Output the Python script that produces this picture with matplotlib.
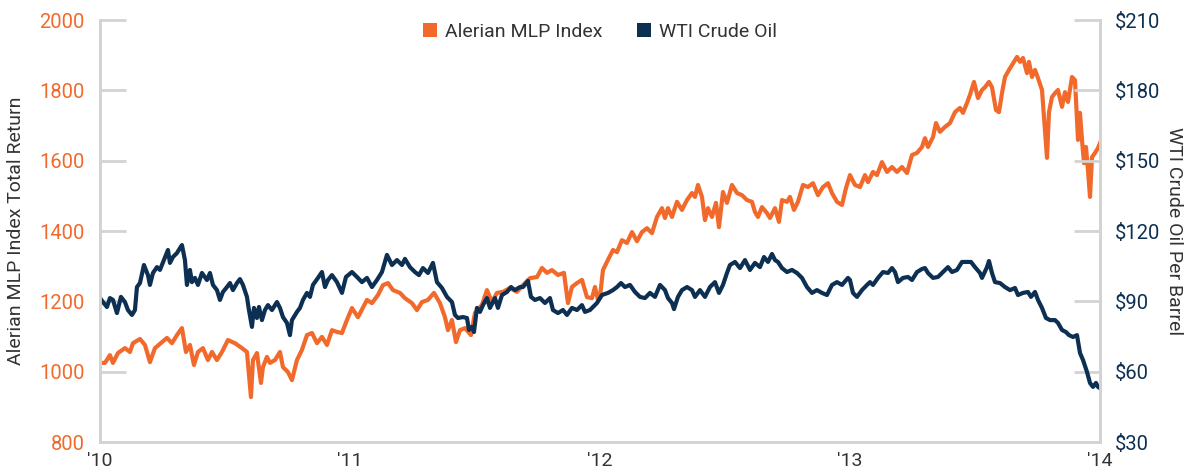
import matplotlib.pyplot as plt
from matplotlib.patches import Patch

# years since start of 2010
mlp_t = [0.000, 0.020, 0.040, 0.052, 0.072, 0.100, 0.120, 0.132, 0.160, 0.180,
         0.200, 0.220, 0.248, 0.268, 0.288, 0.308, 0.328, 0.344, 0.360, 0.376,
         0.392, 0.412, 0.432, 0.448, 0.468, 0.488, 0.512, 0.540, 0.568, 0.588,
         0.604, 0.612, 0.628, 0.644, 0.652, 0.668, 0.680, 0.700, 0.720, 0.732,
         0.752, 0.768, 0.788, 0.808, 0.828, 0.848, 0.868, 0.888, 0.908, 0.928,
         0.948, 0.968, 0.988, 1.008, 1.032, 1.068, 1.088, 1.112, 1.132, 1.152,
         1.172, 1.200, 1.220, 1.248, 1.268, 1.288, 1.312, 1.336, 1.360, 1.380,
         1.392, 1.408, 1.424, 1.440, 1.460, 1.484, 1.500, 1.528, 1.548, 1.568,
         1.588, 1.612, 1.640, 1.668, 1.692, 1.720, 1.748, 1.768, 1.788, 1.808,
         1.832, 1.856, 1.872, 1.888, 1.908, 1.928, 1.948, 1.968, 1.980, 1.992,
         2.000, 2.012, 2.032, 2.052, 2.068, 2.088, 2.108, 2.128, 2.148, 2.168,
         2.188, 2.208, 2.228, 2.248, 2.260, 2.272, 2.288, 2.308, 2.328, 2.348,
         2.368, 2.380, 2.392, 2.408, 2.420, 2.432, 2.448, 2.464, 2.476, 2.492,
         2.508, 2.528, 2.548, 2.568, 2.588, 2.608, 2.620, 2.632, 2.648, 2.668,
         2.680, 2.700, 2.716, 2.728, 2.748, 2.760, 2.776, 2.792, 2.812, 2.832,
         2.852, 2.872, 2.892, 2.912, 2.928, 2.948, 2.968, 2.984, 3.000, 3.020,
         3.040, 3.060, 3.072, 3.092, 3.108, 3.128, 3.148, 3.168, 3.188, 3.208,
         3.228, 3.248, 3.268, 3.288, 3.300, 3.312, 3.332, 3.344, 3.360, 3.380,
         3.400, 3.420, 3.440, 3.452, 3.468, 3.480, 3.496, 3.512, 3.528, 3.540,
         3.556, 3.568, 3.584, 3.596, 3.608, 3.620, 3.636, 3.648, 3.668, 3.680,
         3.692, 3.708, 3.716, 3.728, 3.740, 3.752, 3.768, 3.776, 3.788, 3.796,
         3.808, 3.820, 3.832, 3.848, 3.860, 3.872, 3.888, 3.900, 3.912, 3.920,
         3.928, 3.936, 3.944, 3.952, 3.960, 3.968, 3.980, 3.992, 4.000]
mlp = [1025, 1025, 1047, 1025, 1053, 1067, 1056, 1081, 1093, 1076,
       1027, 1067, 1084, 1096, 1081, 1104, 1124, 1056, 1076, 1019,
       1056, 1067, 1033, 1056, 1033, 1056, 1090, 1081, 1067, 1056,
       928, 1033, 1053, 968, 1013, 1042, 1025, 1033, 1056, 1013,
       999, 976, 1033, 1062, 1104, 1110, 1081, 1099, 1076, 1118,
       1113, 1110, 1147, 1181, 1155, 1204, 1195, 1218, 1246, 1252,
       1232, 1224, 1209, 1195, 1175, 1198, 1204, 1224, 1195, 1155,
       1118, 1147, 1084, 1118, 1124, 1104, 1167, 1190, 1232, 1198,
       1224, 1227, 1238, 1227, 1246, 1266, 1269, 1295, 1281, 1289,
       1275, 1281, 1195, 1241, 1252, 1261, 1212, 1209, 1241, 1204,
       1212, 1289, 1318, 1346, 1340, 1374, 1366, 1397, 1371, 1397,
       1408, 1394, 1440, 1465, 1437, 1465, 1440, 1483, 1460, 1488,
       1508, 1497, 1531, 1497, 1431, 1465, 1440, 1480, 1411, 1511,
       1480, 1531, 1508, 1502, 1488, 1483, 1454, 1440, 1468, 1451,
       1437, 1465, 1426, 1488, 1483, 1497, 1460, 1483, 1531, 1525,
       1536, 1502, 1525, 1536, 1508, 1483, 1474, 1522, 1559, 1531,
       1525, 1559, 1539, 1568, 1559, 1596, 1568, 1582, 1568, 1582,
       1565, 1616, 1622, 1639, 1664, 1639, 1667, 1707, 1682, 1696,
       1707, 1738, 1750, 1736, 1764, 1787, 1824, 1778, 1801, 1809,
       1824, 1809, 1744, 1738, 1792, 1838, 1858, 1872, 1895, 1881,
       1892, 1849, 1881, 1838, 1858, 1835, 1801, 1724, 1608, 1738,
       1781, 1792, 1801, 1753, 1795, 1767, 1838, 1829, 1659, 1736,
       1659, 1593, 1639, 1573, 1497, 1610, 1622, 1636, 1650]

wti_t = [0.000, 0.012, 0.028, 0.040, 0.052, 0.068, 0.084, 0.100, 0.112, 0.128,
         0.140, 0.148, 0.160, 0.176, 0.192, 0.200, 0.212, 0.228, 0.240, 0.256,
         0.272, 0.280, 0.292, 0.308, 0.320, 0.328, 0.340, 0.348, 0.360, 0.368,
         0.380, 0.392, 0.408, 0.428, 0.440, 0.452, 0.468, 0.480, 0.492, 0.508,
         0.520, 0.532, 0.548, 0.560, 0.572, 0.588, 0.596, 0.608, 0.616, 0.628,
         0.636, 0.648, 0.660, 0.672, 0.688, 0.708, 0.720, 0.732, 0.748, 0.760,
         0.768, 0.788, 0.800, 0.812, 0.828, 0.840, 0.852, 0.872, 0.888, 0.900,
         0.912, 0.928, 0.948, 0.968, 0.984, 1.008, 1.028, 1.048, 1.068, 1.088,
         1.108, 1.128, 1.148, 1.168, 1.188, 1.208, 1.220, 1.240, 1.260, 1.276,
         1.292, 1.312, 1.332, 1.348, 1.368, 1.388, 1.408, 1.420, 1.432, 1.452,
         1.468, 1.476, 1.488, 1.496, 1.508, 1.520, 1.532, 1.548, 1.560, 1.580,
         1.592, 1.608, 1.628, 1.644, 1.660, 1.680, 1.692, 1.712, 1.724, 1.740,
         1.760, 1.780, 1.800, 1.812, 1.832, 1.852, 1.868, 1.888, 1.908, 1.928,
         1.940, 1.960, 1.980, 1.988, 2.008, 2.032, 2.052, 2.068, 2.084, 2.100,
         2.120, 2.140, 2.160, 2.180, 2.200, 2.220, 2.240, 2.260, 2.272, 2.288,
         2.296, 2.312, 2.328, 2.348, 2.368, 2.380, 2.400, 2.420, 2.440, 2.460,
         2.476, 2.492, 2.508, 2.520, 2.540, 2.560, 2.580, 2.600, 2.620, 2.640,
         2.656, 2.672, 2.688, 2.700, 2.712, 2.728, 2.748, 2.768, 2.788, 2.808,
         2.828, 2.848, 2.868, 2.888, 2.908, 2.928, 2.948, 2.968, 2.992, 3.000,
         3.012, 3.028, 3.048, 3.068, 3.080, 3.092, 3.112, 3.132, 3.152, 3.168,
         3.180, 3.192, 3.212, 3.232, 3.248, 3.268, 3.288, 3.300, 3.312, 3.332,
         3.352, 3.372, 3.392, 3.408, 3.428, 3.448, 3.468, 3.484, 3.500, 3.520,
         3.528, 3.548, 3.556, 3.568, 3.580, 3.600, 3.620, 3.640, 3.660, 3.672,
         3.692, 3.712, 3.724, 3.740, 3.752, 3.768, 3.784, 3.800, 3.820, 3.832,
         3.848, 3.864, 3.876, 3.892, 3.908, 3.920, 3.932, 3.948, 3.960, 3.972,
         3.984, 3.992, 4.000]
wti = [91.4, 89.7, 87.6, 91.4, 90.6, 85.0, 91.9, 89.7, 86.3, 84.2,
       86.3, 96.1, 97.8, 105.5, 101.2, 97.0, 102.1, 104.6, 103.4, 107.6,
       111.9, 106.4, 108.9, 110.6, 112.7, 114.0, 107.6, 97.0, 103.4, 98.2,
       100.0, 97.0, 102.1, 99.1, 102.1, 97.0, 94.8, 90.6, 94.0, 96.1,
       97.8, 94.8, 97.8, 99.5, 97.0, 91.9, 86.3, 79.1, 87.2, 82.9,
       87.6, 82.0, 86.3, 88.4, 86.3, 89.7, 87.2, 83.3, 80.8, 75.6,
       82.0, 85.5, 87.2, 90.6, 93.6, 91.9, 97.0, 100.0, 102.5, 96.1,
       99.1, 101.2, 98.2, 93.6, 100.4, 102.5, 100.4, 98.2, 100.0, 96.1,
       99.1, 102.5, 109.8, 105.5, 107.6, 105.5, 108.1, 104.6, 102.5, 101.2,
       104.2, 102.1, 106.4, 98.2, 95.7, 91.9, 89.7, 84.2, 82.9, 83.3,
       82.9, 77.8, 79.1, 76.9, 87.2, 85.5, 88.4, 91.4, 87.2, 91.4,
       87.2, 92.7, 94.0, 96.1, 94.8, 96.1, 96.1, 98.7, 91.9, 90.6,
       91.4, 89.3, 91.4, 86.3, 85.0, 86.3, 84.2, 87.2, 86.3, 88.4,
       85.5, 86.3, 88.4, 89.3, 92.7, 93.6, 94.8, 96.1, 97.8, 96.1,
       97.0, 94.0, 91.9, 91.4, 93.6, 91.9, 97.0, 94.8, 91.4, 89.3,
       86.7, 91.9, 94.8, 96.1, 94.8, 91.9, 94.8, 91.9, 96.1, 98.2,
       93.6, 97.0, 102.1, 105.5, 106.8, 104.2, 107.6, 103.4, 106.4, 104.6,
       108.9, 106.8, 110.2, 107.6, 106.8, 104.2, 102.5, 103.4, 102.1, 100.0,
       96.1, 93.6, 94.8, 93.6, 92.7, 97.0, 98.2, 97.0, 100.0, 99.1,
       93.6, 91.9, 94.8, 97.0, 98.2, 97.0, 100.0, 102.5, 102.1, 104.2,
       102.5, 98.2, 100.0, 100.4, 99.1, 102.5, 103.8, 104.2, 102.1, 100.0,
       100.4, 102.5, 104.6, 102.5, 103.4, 106.8, 106.8, 106.8, 104.6, 102.1,
       100.0, 104.6, 107.2, 102.1, 98.2, 97.8, 96.1, 94.8, 95.7, 92.7,
       93.6, 94.0, 91.9, 94.0, 90.6, 87.2, 82.9, 82.0, 82.0, 80.8,
       77.8, 76.9, 75.6, 74.8, 75.6, 68.0, 65.0, 59.9, 55.2, 53.5,
       55.2, 53.5, 53.0]

year_ticks = [2010, 2011, 2012, 2013, 2014]
year_labels = ["'10", "'11", "'12", "'13", "'14"]
left_ticks = [800, 1000, 1200, 1400, 1600, 1800, 2000]
right_ticks = [30, 60, 90, 120, 150, 180, 210]

orange = '#f26a2b'
navy = '#0d3052'
grey = '#d3d3d3'
text_c = '#333333'
plt.rcParams['font.family'] = ['Roboto', 'DejaVu Sans']

fig = plt.figure(figsize=(11.87, 4.73), dpi=100)
ax = fig.add_axes([0.0842, 0.0655, 0.8425, 0.8922])
ax2 = ax.twinx()

ax.plot([2010 + t for t in mlp_t], mlp, color=orange, lw=3, solid_joinstyle='round')
ax2.plot([2010 + t for t in wti_t], wti, color=navy, lw=3, solid_joinstyle='round')

ax.set_xlim(2010, 2014)
ax.set_ylim(800, 2000)
ax2.set_ylim(30, 210)

ax.set_xticks(year_ticks)
ax.set_xticklabels(year_labels)
ax.set_yticks(left_ticks)
ax.set_yticklabels([str(v) for v in left_ticks])
ax2.set_yticks(right_ticks)
ax2.set_yticklabels(['$%d' % v for v in right_ticks])

for a in (ax, ax2):
    a.spines['top'].set_visible(False)
    for s in ('left', 'right', 'bottom'):
        a.spines[s].set_color(grey)
        a.spines[s].set_linewidth(2)

ax.tick_params(axis='x', length=0, pad=7, labelsize=14, labelcolor=text_c)
ax.tick_params(axis='y', direction='in', length=19, width=2, color=grey,
               pad=11, labelsize=14.5, labelcolor=orange)
ax2.tick_params(axis='y', direction='in', length=19, width=2, color=grey,
                pad=11, labelsize=14.5, labelcolor=navy)

ax.set_ylabel('Alerian MLP Index Total Return', fontsize=14, color=text_c, labelpad=10)
ax2.set_ylabel('WTI Crude Oil Per Barrel', fontsize=14, color=text_c,
               rotation=270, labelpad=16)

handles = [Patch(facecolor=orange, edgecolor='none', label='Alerian MLP Index'),
           Patch(facecolor=navy, edgecolor='none', label='WTI Crude Oil')]
leg = ax2.legend(handles=handles, loc='upper center', bbox_to_anchor=(0.5, 1.035),
                 ncol=2, frameon=False, fontsize=14, handlelength=0.7,
                 handleheight=0.7, handletextpad=0.4, columnspacing=1.8)
for txt in leg.get_texts():
    txt.set_color(text_c)

fig.savefig('out.png', dpi=100)
